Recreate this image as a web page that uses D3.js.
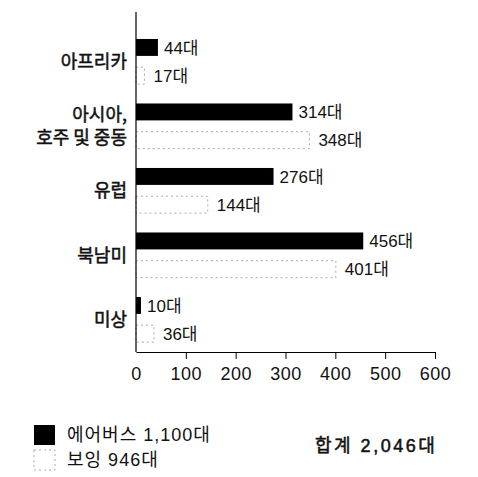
<!DOCTYPE html>
<html>
<head>
<meta charset="utf-8">
<script src="https://cdn.jsdelivr.net/npm/d3@7"></script>
<style>
  body { margin: 0; background: #fff; }
  text { font-family: "Liberation Sans", "Noto Sans CJK KR", sans-serif; fill: #111; }
</style>
</head>
<body>
<div id="plot"></div>
<script>
var regions = [["아프리카"], ["아시아,", "호주 및 중동"], ["유럽"], ["북남미"], ["미상"]];
var series = ["airbus", "boeing"];
var airbus = [44, 314, 276, 456, 10];
var boeing = [17, 348, 144, 401, 36];
var xTicks = [0, 100, 200, 300, 400, 500, 600];
var legendLabels = ["에어버스 1,100대", "보잉 946대"];
var totalLabel = "합계 2,046대";
var unit = "대";

var width = 478, height = 477;

var svg = d3.select("#plot").append("svg")
    .attr("width", width)
    .attr("height", height);

var xScale = d3.scaleLinear().domain([0, 600]).range([136, 435]);

var yScale = d3.scaleBand()
    .domain(d3.range(regions.length))
    .range([29.3, 351.8])
    .paddingInner(0.3)
    .paddingOuter(0.15);

var inner = d3.scaleBand()
    .domain(series)
    .range([0, yScale.bandwidth()])
    .paddingInner(0.4);

var rows = [];
regions.forEach(function (r, i) {
    rows.push({ i: i, s: "airbus", v: airbus[i] });
    rows.push({ i: i, s: "boeing", v: boeing[i] });
});

// bars
svg.append("g").selectAll("rect")
    .data(rows)
    .enter().append("rect")
    .attr("x", xScale(0))
    .attr("y", function (d) { return yScale(d.i) + inner(d.s); })
    .attr("width", function (d) { return xScale(d.v) - xScale(0); })
    .attr("height", inner.bandwidth())
    .attr("fill", function (d) { return d.s == "airbus" ? "#000" : "#fff"; })
    .attr("stroke", function (d) { return d.s == "airbus" ? "none" : "#aaa"; })
    .attr("stroke-width", 1)
    .attr("stroke-dasharray", "2,3");

// value labels
svg.append("g").selectAll("text")
    .data(rows)
    .enter().append("text")
    .attr("x", function (d) { return xScale(d.v) + (d.s == "airbus" ? 6 : 9); })
    .attr("y", function (d) { return yScale(d.i) + inner(d.s) + inner.bandwidth() / 2; })
    .attr("dy", "0.36em")
    .style("font-size", "17px")
    .text(function (d) { return d.v + unit; });

// category labels (regular weight thickened a little, medium look)
var cat = svg.append("g").selectAll("text")
    .data(regions)
    .enter().append("text")
    .attr("text-anchor", "end")
    .attr("x", 127)
    .attr("y", function (d, i) { return yScale(i) + yScale.bandwidth() / 2; })
    .style("font-family", "\"Noto Sans CJK KR\", sans-serif")
    .style("font-size", "18px")
    .style("stroke", "#111")
    .style("stroke-width", "0.5px");

cat.selectAll("tspan")
    .data(function (d) { return d.map(function (t, k) { return { t: t, k: k, n: d.length }; }); })
    .enter().append("tspan")
    .attr("x", 127)
    .attr("dy", function (d) {
        if (d.k == 0) return (0.36 - (d.n - 1) * 0.65) + "em";
        return "1.3em";
    })
    .text(function (d) { return d.t; });

// y axis line
svg.append("line")
    .attr("x1", xScale(0)).attr("x2", xScale(0))
    .attr("y1", 12).attr("y2", 352)
    .attr("stroke", "#000").attr("stroke-width", 1.2);

// x axis
var xAxis = d3.axisBottom(xScale)
    .tickValues(xTicks)
    .tickSizeInner(7)
    .tickSizeOuter(0)
    .tickPadding(8)
    .tickFormat(d3.format("d"));

var xg = svg.append("g")
    .attr("transform", "translate(0,352)")
    .call(xAxis);
xg.select(".domain").attr("stroke", "#000").attr("stroke-width", 1.2);
xg.selectAll(".tick line").attr("stroke", "#000")
    .attr("opacity", function (d) { return d == 0 ? 0 : 1; });
xg.selectAll(".tick text")
    .style("font-size", "18px")
    .style("letter-spacing", "0.5px")
    .style("font-family", "\"Liberation Sans\", sans-serif")
    .attr("fill", "#111");

// legend
var legend = svg.append("g");
legend.selectAll("rect")
    .data(series)
    .enter().append("rect")
    .attr("x", 34)
    .attr("y", function (d, i) { return 425 + i * 25; })
    .attr("width", 21)
    .attr("height", 20)
    .attr("fill", function (d) { return d == "airbus" ? "#000" : "#fff"; })
    .attr("stroke", function (d) { return d == "airbus" ? "none" : "#aaa"; })
    .attr("stroke-dasharray", "2,3");

legend.selectAll("text")
    .data(legendLabels)
    .enter().append("text")
    .attr("x", 67)
    .attr("y", function (d, i) { return 435 + i * 25; })
    .attr("dy", "0.36em")
    .style("font-size", "18px")
    .style("letter-spacing", "1px")
    .text(function (d) { return d; });

svg.append("text")
    .attr("x", 315)
    .attr("y", 446)
    .attr("dy", "0.36em")
    .style("font-size", "18px")
    .style("stroke", "#111")
    .style("stroke-width", "0.5px")
    .style("letter-spacing", "2.5px")
    .text(totalLabel);
</script>
</body>
</html>
